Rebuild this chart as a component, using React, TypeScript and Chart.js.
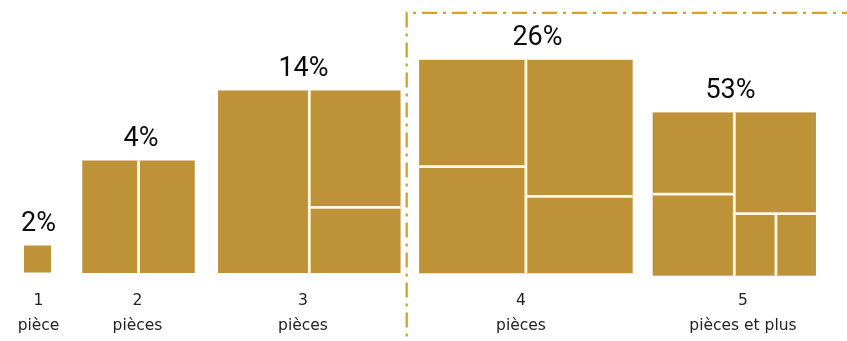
import { useEffect, useRef } from 'react';
import { Chart, registerables } from 'chart.js';

Chart.register(...registerables);

// Share of dwellings by number of rooms
const roomCounts = ['1', '2', '3', '4', '5'];
const roomWords = ['pièce', 'pièces', 'pièces', 'pièces', 'pièces et plus'];
const shares = [2, 4, 14, 26, 53];
const shareLabels = shares.map((s) => `${s}%`);

// Drawing layout, in scale units (one unit per canvas pixel)
const W = 847;
const H = 341;
const blockCenterX = [37.5, 138.5, 309.3, 525.9, 734.3];
const blockBottom = [272.5, 273, 273, 273.3, 275.7];
const blockSide = [27, 112.5, 182.5, 213.5, 163.3];
const shareLabelX = [38.5, 141, 303.5, 537.5, 730.5];
const captionX = [38.5, 137.5, 303, 521, 743];
const captionBaselines = [305, 330];
const labelGap = 14.5;

// Room partition lines inside each square, as fractions of its side: [x0, y0, x1, y1]
const partitions: number[][][] = [
  [],
  [[0.5, 0, 0.5, 1]],
  [
    [0.5, 0, 0.5, 1],
    [0.5, 0.64, 1, 0.64],
  ],
  [
    [0.5, 0, 0.5, 1],
    [0, 0.5, 0.5, 0.5],
    [0.5, 0.64, 1, 0.64],
  ],
  [
    [0.5, 0, 0.5, 1],
    [0, 0.5, 0.5, 0.5],
    [0.5, 0.62, 1, 0.62],
    [0.755, 0.62, 0.755, 1],
  ],
];

// Highlight frame around the larger dwellings
const frameLeft = 406.7;
const frameTop = 12.8;

const GOLD = '#BE9236';
const FRAME = '#D6A224';
const DIVIDER = '#FFF8E6';

const roomsPlugin = {
  id: 'roomSquares',
  afterDatasetsDraw(chart: any) {
    const { ctx } = chart;
    const xs = chart.scales.x;
    const ys = chart.scales.y;
    const px = (v: number) => xs.getPixelForValue(v);
    const py = (v: number) => ys.getPixelForValue(v);

    ctx.save();

    // dash-dot frame
    ctx.strokeStyle = FRAME;
    ctx.lineWidth = 2.3;
    ctx.setLineDash([15, 6, 3, 6]);
    ctx.beginPath();
    ctx.moveTo(px(W + 10), py(frameTop));
    ctx.lineTo(px(frameLeft), py(frameTop));
    ctx.lineTo(px(frameLeft), py(H + 10));
    ctx.stroke();
    ctx.setLineDash([]);

    shares.forEach((_, i) => {
      const side = blockSide[i];
      const x0 = blockCenterX[i] - side / 2;
      const y1 = blockBottom[i];
      const y0 = y1 - side;
      const left = px(x0);
      const right = px(x0 + side);
      const top = py(y0);
      const bottom = py(y1);

      ctx.fillStyle = GOLD;
      ctx.fillRect(left, top, right - left, bottom - top);

      ctx.strokeStyle = DIVIDER;
      ctx.lineWidth = 2.8;
      partitions[i].forEach(([a, b, c, d]) => {
        ctx.beginPath();
        ctx.moveTo(px(x0 + a * side), py(y0 + b * side));
        ctx.lineTo(px(x0 + c * side), py(y0 + d * side));
        ctx.stroke();
      });

      // share label above the square
      ctx.fillStyle = '#0d0d0d';
      ctx.font = '27px Roboto, "Noto Sans", sans-serif';
      ctx.textAlign = 'center';
      ctx.textBaseline = 'alphabetic';
      ctx.fillText(shareLabels[i], px(shareLabelX[i]), py(y0 - labelGap));

      // room count caption
      ctx.fillStyle = '#222222';
      ctx.font = '15.5px "DejaVu Sans", sans-serif';
      ctx.fillText(roomCounts[i], px(captionX[i]), py(captionBaselines[0]));
      ctx.fillText(roomWords[i], px(captionX[i]), py(captionBaselines[1]));
    });

    ctx.restore();
  },
};

export default function App() {
  const canvasRef = useRef<HTMLCanvasElement | null>(null);

  useEffect(() => {
    document.body.style.margin = '0';
    document.body.style.background = '#ffffff';
    const canvas = canvasRef.current;
    if (!canvas) return;

    const chart = new Chart(canvas, {
      type: 'scatter',
      data: {
        datasets: [
          {
            label: 'Part des logements',
            data: shares.map((s, i) => ({ x: blockCenterX[i], y: blockBottom[i] - blockSide[i] })),
            pointRadius: 0,
            pointHoverRadius: 0,
          },
        ],
      },
      options: {
        animation: false,
        responsive: true,
        maintainAspectRatio: false,
        layout: { padding: 0 },
        events: [],
        plugins: {
          legend: { display: false },
          tooltip: { enabled: false },
        },
        scales: {
          x: { type: 'linear', min: 0, max: W, display: false },
          y: { type: 'linear', min: 0, max: H, reverse: true, display: false },
        },
      },
      plugins: [roomsPlugin],
    });

    return () => chart.destroy();
  }, []);

  return (
    <div style={{ position: 'relative', width: W, height: H, background: '#ffffff' }}>
      <canvas ref={canvasRef} />
    </div>
  );
}
